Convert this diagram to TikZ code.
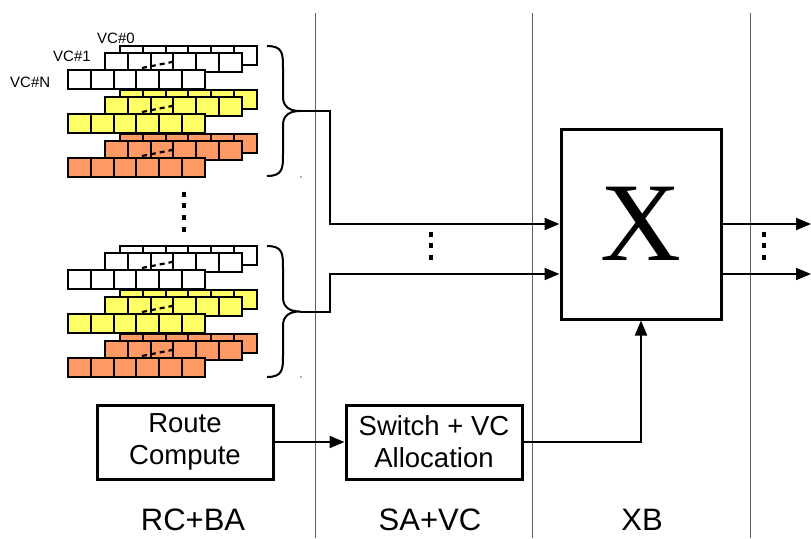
\documentclass[tikz,border=0pt]{standalone}
\usepackage{fontspec}
\setmainfont{Liberation Sans}
\newfontfamily\xbfont{Liberation Serif}
\usepackage{xcolor}
\usepackage{tikz}
\usetikzlibrary{arrows.meta,positioning,calc}
\definecolor{vcyellow}{HTML}{FFFF66}
\definecolor{vcorange}{HTML}{FF9966}
\definecolor{sepgray}{HTML}{606060}

% one VC buffer: 6 flit slots
\newcommand\bufrow[3]{%
  \foreach \k in {0,...,5}
    \draw[cell, fill=#3] (#1+\k*22.8,#2) rectangle ++(22.8,19);}
% VC#0, VC#1, ..., VC#N of one class
\newcommand\vcgroup[2]{%
  \bufrow{120}{#1}{#2}
  \bufrow{105}{#1+7}{#2}
  \draw[vcdash] (142,#1+22) -- (172,#1+16);
  \bufrow{68}{#1+24}{#2}}
% curly brace from top #1 to bottom #2, tip named #3
\newcommand\vcbrace[3]{%
  \pgfmathsetmacro\bmid{(#1+#2)/2}
  \draw[brc] (267,#1) .. controls (283,#1) and (283,#1+8) .. (283,#1+22)
    -- (283,\bmid-14) .. controls (283,\bmid-4) and (290,\bmid) .. (300,\bmid)
    .. controls (290,\bmid) and (283,\bmid+4) .. (283,\bmid+14)
    -- (283,#2-22) .. controls (283,#2-8) and (283,#2) .. (267,#2);
  \coordinate (#3) at (300,\bmid);}

\begin{document}
\begin{tikzpicture}[x=1pt, y=-1pt,
    cell/.style={draw, line width=2.1pt},
    vcdash/.style={line width=2.2pt, dash pattern=on 5pt off 4pt},
    brc/.style={line width=2pt},
    sep/.style={draw=sepgray, line width=0.9pt},
    blk/.style={draw, line width=3pt, minimum width=176pt, minimum height=74pt, inner sep=0pt, align=center, font=\fontsize{27.5}{32}\selectfont},
    stage/.style={anchor=base, inner sep=0pt, text depth=0pt, font=\fontsize{31}{36}\selectfont},
    vclbl/.style={anchor=base west, inner sep=0pt, font=\fontsize{15}{18}\selectfont},
    arr/.style={line width=2pt, -{Triangle[length=15pt, width=12pt]}},
    vdots/.style={line width=4.5pt, dash pattern=on 5pt off 6.7pt}]
\useasboundingbox (0,0) rectangle (811,538);
% pipeline stage separators
\foreach \x in {315,532,750} \draw[sep] (\x,13) -- (\x,538);
% input buffers of two ports
\foreach \y/\c in {46/white,90/vcyellow,134/vcorange,246/white,290/vcyellow,334/vcorange}
  \vcgroup{\y}{\c};
\node[vclbl] (vc0) at (97,43) {VC\#0};
\node[vclbl] (vc1) at (53,61) {VC\#1};
\node[vclbl] (vcn) at (10,87) {VC\#N};
\draw[vdots] (184,191.7) -- (184,232);
\vcbrace{46}{176}{tipa}
\vcbrace{246}{377}{tipb}
\fill[sepgray] (301,177) circle (0.8);
\fill[sepgray] (301,377) circle (0.8);
% crossbar
\node[draw, line width=3pt, minimum width=160pt, minimum height=190pt, font=\xbfont\fontsize{112}{112}\selectfont] (xbar) at (641,224) {X};
\coordinate (turn) at (330,0);
\coordinate (edge) at (811,0);
\draw[arr] (tipa) -- (tipa -| turn) |- (xbar.west);
\draw[arr] (tipb) -- (tipb -| turn) |- ([yshift=-50pt]xbar.west);
\draw[vdots] (431,231.7) -- (431,261);
\draw[arr] (xbar.east) -- (xbar.east -| edge);
\draw[arr] ([yshift=-50pt]xbar.east) -- ([yshift=-50pt]xbar.east -| edge);
\draw[vdots] (764,231.7) -- (764,261);
% allocators
\node[blk] (rc) at (185,442) {Route\\Compute};
\node[blk, right=70pt of rc] (sw) {Switch + VC\\Allocation};
\draw[arr] (rc) -- (sw);
\draw[arr] (sw) -| (xbar);
% stage names
\node[stage] (rcba) at (193,530) {RC+BA};
\node[stage] (savc) at (430,530) {SA+VC};
\node[stage] (xb) at (642,530) {XB};
\end{tikzpicture}
\end{document}
